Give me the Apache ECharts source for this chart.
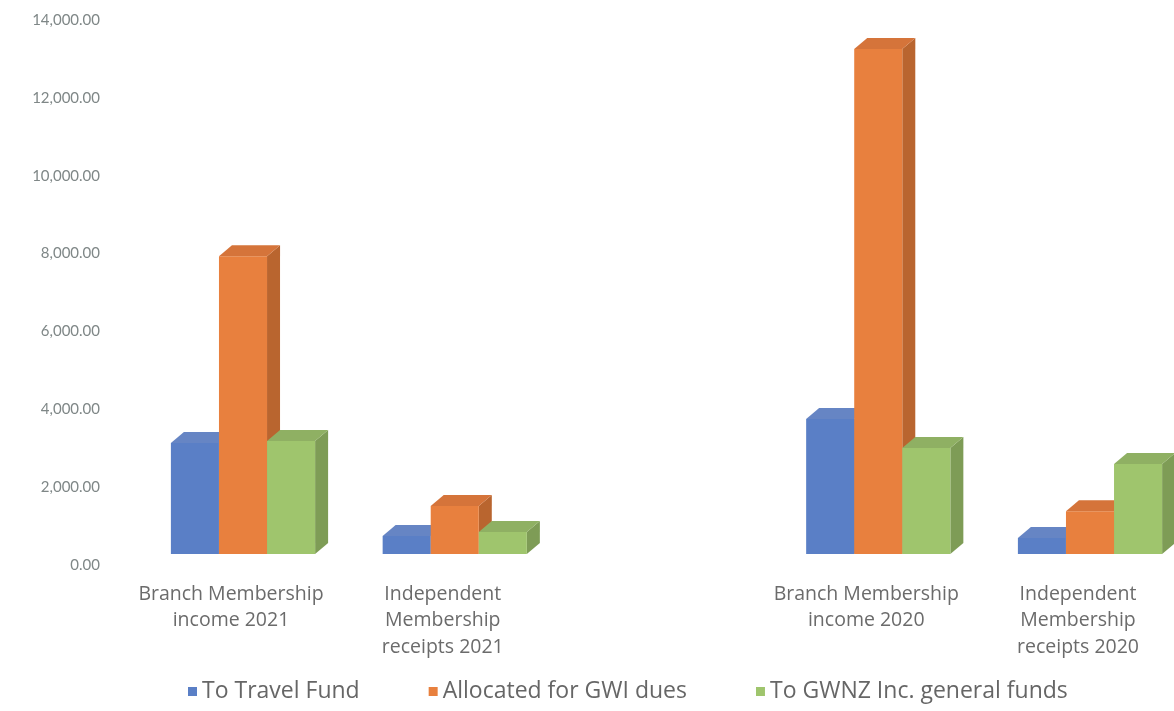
<!DOCTYPE html>
<html>
<head>
<meta charset="utf-8">
<script src="https://cdn.jsdelivr.net/npm/echarts@6/dist/echarts.min.js"></script>
<style>html,body{margin:0;padding:0;background:#fff;}#c{width:1174px;height:711px;}</style>
</head>
<body>
<div id="c"></div>
<script>
const categories = ['Branch Membership\nincome 2021', 'Independent\nMembership\nreceipts 2021', '', 'Branch Membership\nincome 2020', 'Independent\nMembership\nreceipts 2020'];
const seriesNames = ['To Travel Fund', 'Allocated for GWI dues', 'To GWNZ Inc. general funds'];
const travelFund = [2850, 460, null, 3470, 410];
const gwiDues = [7650, 1230, null, 12970, 1100];
const generalFunds = [2900, 565, null, 2720, 2310];
const yTicks = { min: 0, max: 14000, interval: 2000 };

const palette = [
  { front: '#5a7fc6', side: '#4766a6', top: '#6685c4' },
  { front: '#e8803e', side: '#b9652f', top: '#d5743a' },
  { front: '#9fc56d', side: '#7e9c56', top: '#8fb063' }
];
const DX = 13, DY = 11, LIFT = 11, SHIFT = 12;

function makeRender(si) {
  return function (params, api) {
    const v = api.value(1);
    if (v == null || isNaN(v)) return null;
    const idx = api.value(0);
    const band = api.size([1, 0])[0];
    const bw = band * 0.227;
    const cx = api.coord([idx, 0])[0] + SHIFT + (si - 1) * bw;
    const y0 = api.coord([idx, 0])[1] - LIFT;
    const y1 = api.coord([idx, v])[1] - LIFT;
    const l = cx - bw / 2, r = cx + bw / 2;
    const c = palette[si];
    return {
      type: 'group',
      children: [
        { type: 'polygon', shape: { points: [[r, y1], [r + DX, y1 - DY], [r + DX, y0 - DY], [r, y0]] }, style: { fill: c.side } },
        { type: 'rect', shape: { x: l, y: y1, width: bw, height: y0 - y1 }, style: { fill: c.front } },
        { type: 'polygon', shape: { points: [[l, y1], [l + DX, y1 - DY], [r + DX, y1 - DY], [r, y1]] }, style: { fill: c.top } }
      ]
    };
  };
}

const dataSets = [travelFund, gwiDues, generalFunds];
const chart = echarts.init(document.getElementById('c'));
chart.setOption({
  backgroundColor: '#ffffff',
  animation: false,
  color: palette.map(p => p.front),
  grid: { left: 231, top: 20, width: 847, bottom: 146, containLabel: false },
  legend: {
    data: seriesNames,
    left: 183,
    top: 675,
    icon: 'rect',
    itemWidth: 9,
    itemHeight: 9,
    itemGap: 69,
    textStyle: { fontFamily: 'Open Sans', fontSize: 23, color: '#666666' }
  },
  xAxis: {
    type: 'category',
    data: categories,
    boundaryGap: false,
    axisLine: { show: false },
    axisTick: { show: false },
    splitLine: { show: false },
    axisLabel: {
      interval: 0,
      margin: 16,
      fontFamily: 'Open Sans',
      fontSize: 19.5,
      lineHeight: 26.5,
      color: '#6b6b6b',
      align: 'center'
    }
  },
  yAxis: {
    type: 'value',
    min: yTicks.min,
    max: yTicks.max,
    interval: yTicks.interval,
    axisLine: { show: false },
    axisTick: { show: false },
    splitLine: { show: false },
    axisLabel: {
      margin: 131,
      fontFamily: 'Lato',
      fontSize: 15,
      color: '#7f8787',
      formatter: v => v.toLocaleString('en-US', { minimumFractionDigits: 2, maximumFractionDigits: 2 })
    }
  },
  series: dataSets.map((d, si) => ({
    type: 'custom',
    name: seriesNames[si],
    renderItem: makeRender(si),
    encode: { x: 0, y: 1 },
    data: d.map((v, i) => [i, v])
  }))
});
</script>
</body>
</html>
